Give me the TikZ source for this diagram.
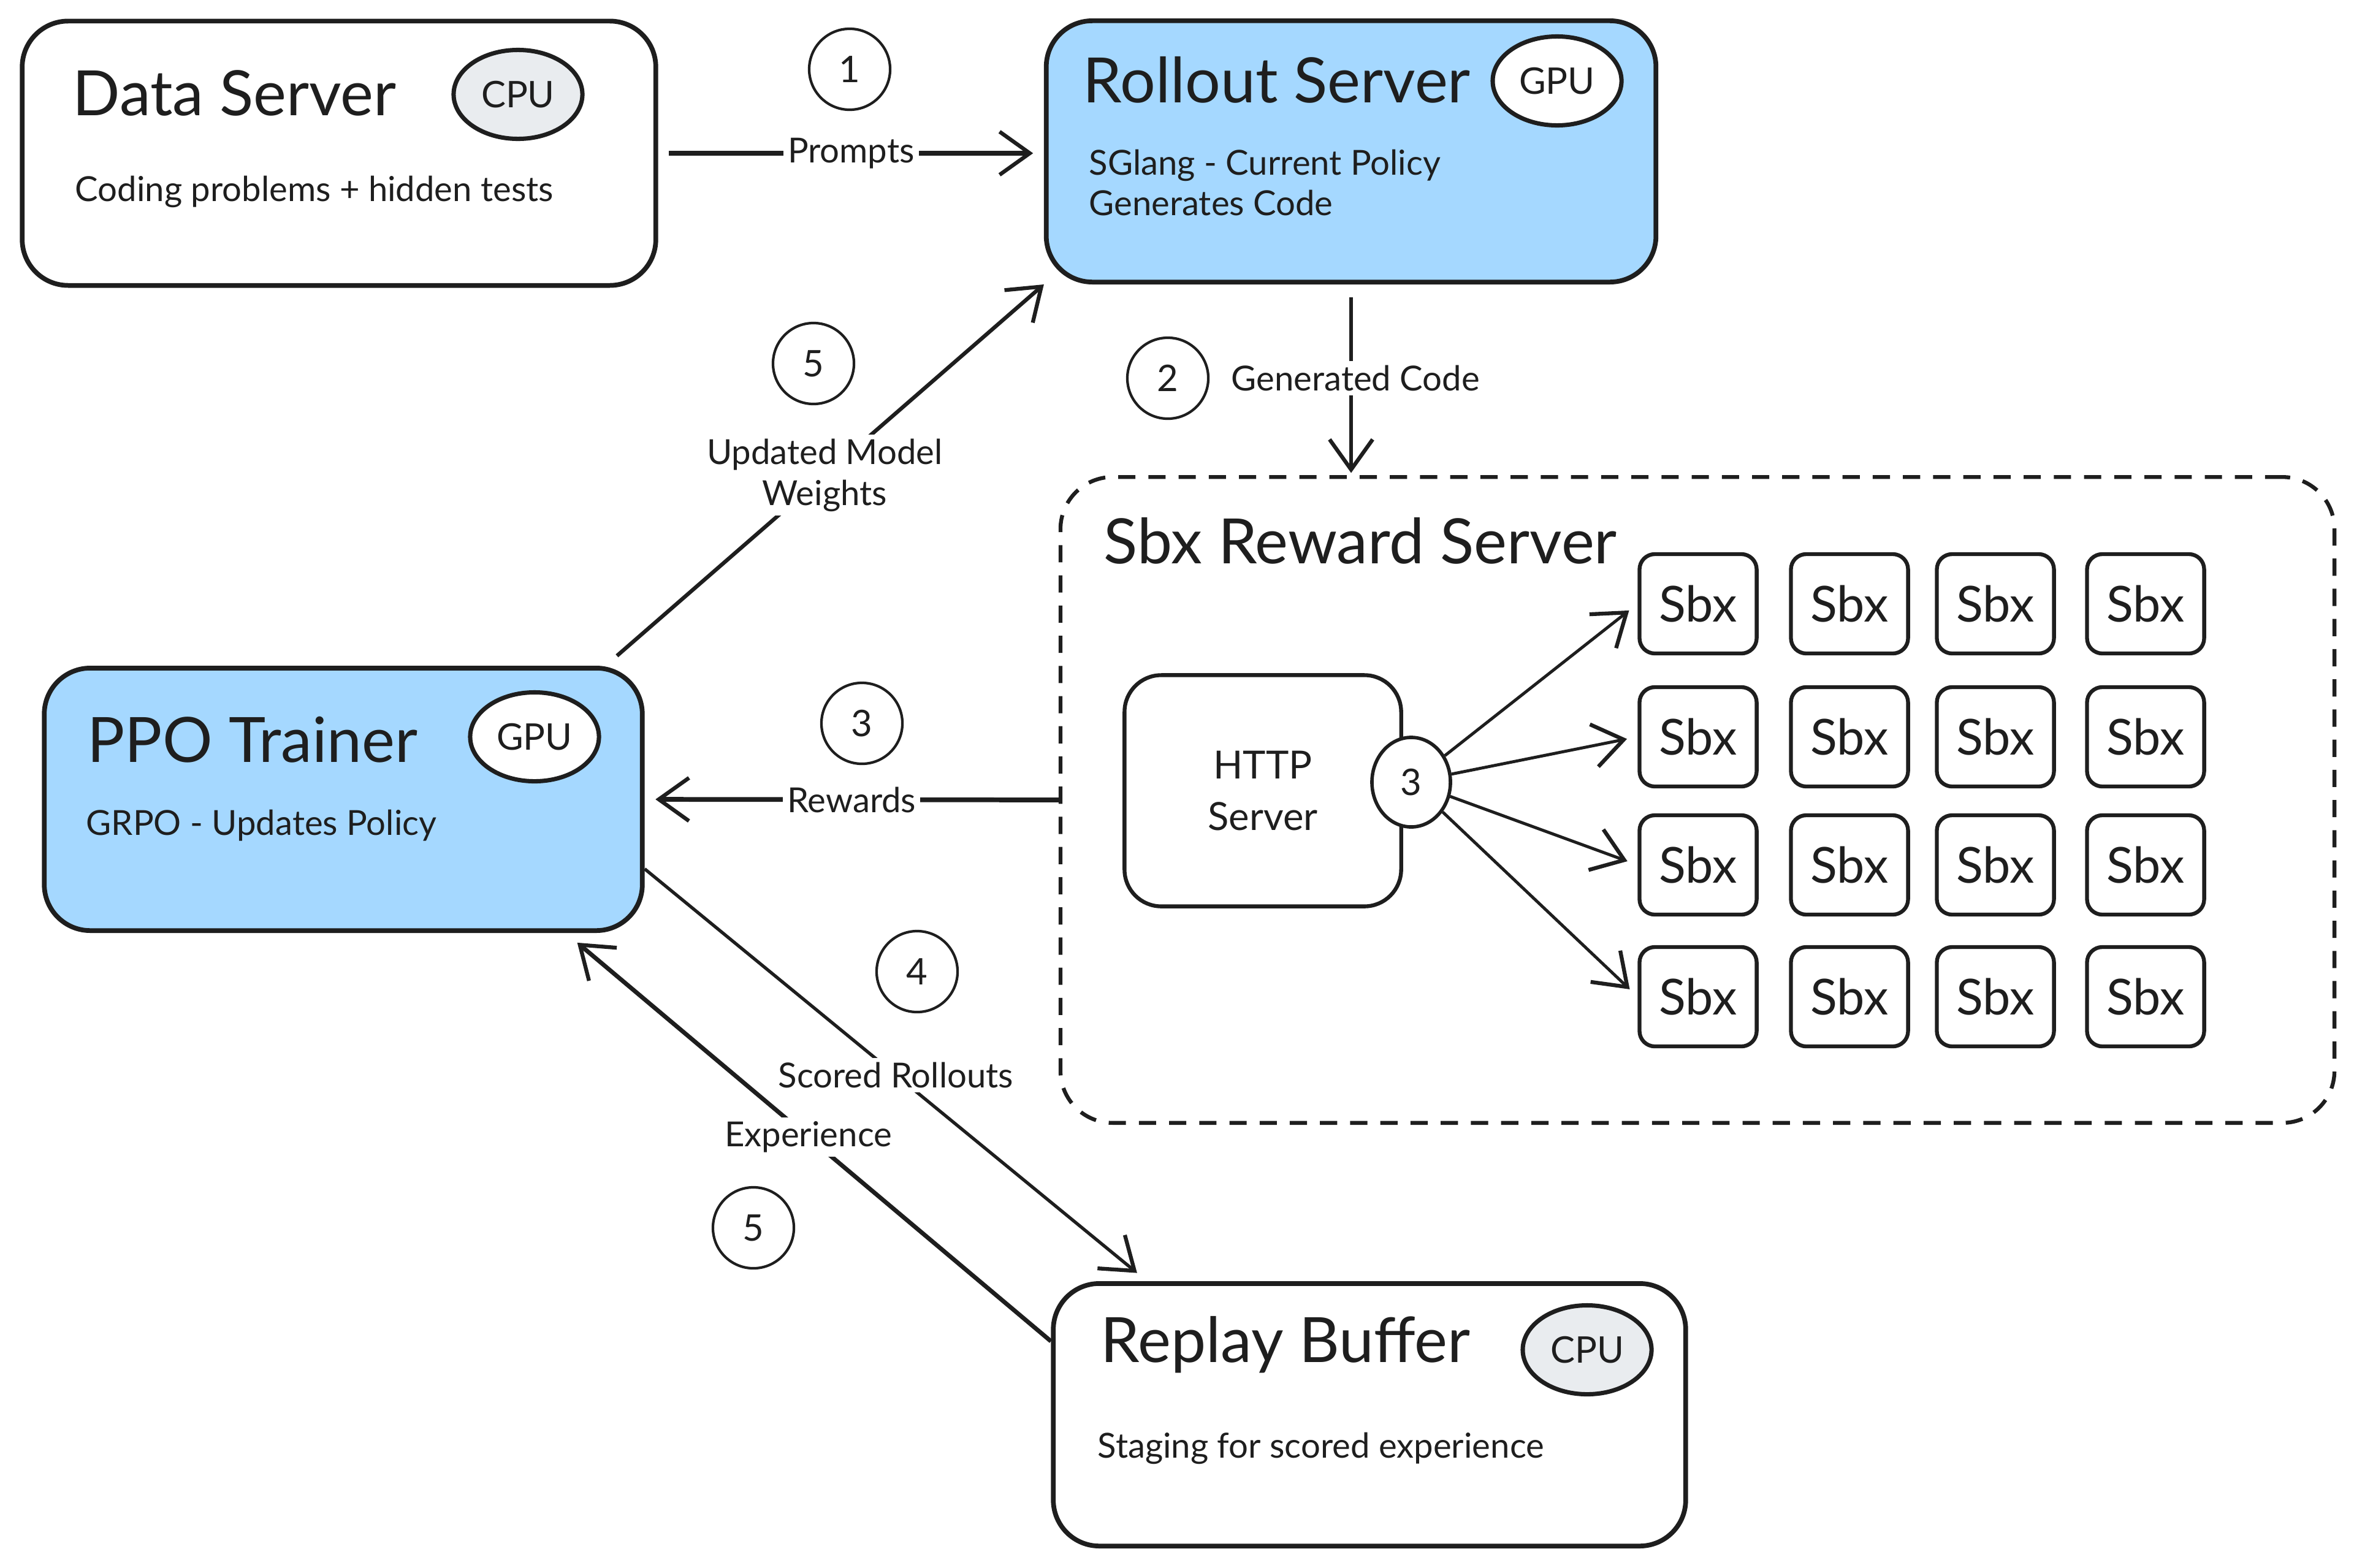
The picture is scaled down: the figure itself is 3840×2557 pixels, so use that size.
\documentclass[tikz,border=0pt]{standalone}
\usepackage{fontspec}
\setmainfont{Lato}
\usetikzlibrary{arrows.meta,shapes.geometric}

\definecolor{ink}{HTML}{1E1E1E}
\definecolor{gpublue}{HTML}{A5D8FF}
\definecolor{cpugray}{HTML}{E9ECEF}

\tikzset{
  server/.style={draw=ink, line width=2.2pt, rounded corners=0.75cm, inner sep=0pt},
  title/.style={anchor=west, inner sep=0pt, text=ink, font=\fontsize{29}{35}\selectfont},
  desc/.style={anchor=west, inner sep=0pt, text=ink, align=left, font=\fontsize{16}{19}\selectfont},
  hwtag/.style={ellipse, draw=ink, line width=2pt, inner sep=0pt, minimum width=2.1cm,
    minimum height=1.45cm, text=ink, font=\fontsize{17}{20}\selectfont},
  stepnum/.style={circle, draw=ink, line width=1.2pt, inner sep=0pt, minimum size=1.32cm,
    fill=white, text=ink, font=\fontsize{17}{20}\selectfont},
  flow/.style={draw=ink, line width=1.8pt,
    -{Straight Barb[length=14pt,width=20pt,line width=1.8pt]}},
  flowlabel/.style={fill=white, inner sep=2pt, text=ink, align=center,
    font=\fontsize{16}{19}\selectfont},
  sandbox/.style={draw=ink, line width=1.8pt, rounded corners=0.25cm, minimum width=1.91cm,
    minimum height=1.62cm, text=ink, font=\fontsize{23}{26}\selectfont},
}

\begin{document}
\begin{tikzpicture}[x=0.01cm, y=-0.01cm]
  \useasboundingbox (0,0) rectangle (3840,2557);

  % --- Data Server ---
  \node[server, minimum width=10.33cm, minimum height=4.31cm] (ds) at (553,250) {};
  \node[title] (dstitle) at (118,152) {Data Server};
  \node[desc] (dstext) at (122,313) {Coding problems + hidden tests};
  \node[hwtag, fill=cpugray] (dscpu) at (845,154) {CPU};

  % --- Rollout Server ---
  \node[server, fill=gpublue, minimum width=9.94cm, minimum height=4.26cm] (rs) at (2204,247) {};
  \node[title] (rstitle) at (1766,130) {Rollout Server};
  \node[desc] (rstext) at (1776,298) {SGlang - Current Policy\\Generates Code};
  \node[hwtag, fill=white] (rsgpu) at (2540,132) {GPU};

  % --- PPO Trainer ---
  \node[server, fill=gpublue, minimum width=9.75cm, minimum height=4.28cm] (ppo) at (560,1304) {};
  \node[title] (ppotitle) at (142,1207) {PPO Trainer};
  \node[desc] (ppotext) at (140,1347) {GRPO - Updates Policy};
  \node[hwtag, fill=white] (ppogpu) at (872,1202) {GPU};

  % --- Replay Buffer ---
  \node[server, minimum width=10.31cm, minimum height=4.28cm] (rb) at (2234,2308) {};
  \node[title] (rbtitle) at (1795,2194) {Replay Buffer};
  \node[desc] (rbtext) at (1790,2363) {Staging for scored experience};
  \node[hwtag, fill=cpugray] (rbcpu) at (2589,2202) {CPU};

  % --- Sbx Reward Server ---
  \node[draw=ink, line width=1.8pt, dash pattern=on 8pt off 6pt, rounded corners=0.85cm,
    minimum width=20.77cm, minimum height=10.53cm] (rew) at (2769,1305) {};
  \node[title] (rewtitle) at (1800,882) {Sbx Reward Server};
  \node[draw=ink, line width=1.8pt, rounded corners=0.6cm, minimum width=4.51cm,
    minimum height=3.77cm, align=center, text=ink, font=\fontsize{18}{24}\selectfont]
    (http) at (2060,1290) {HTTP\\Server};
  \node[ellipse, draw=ink, line width=1.6pt, fill=white, inner sep=0pt, minimum width=1.28cm,
    minimum height=1.46cm, text=ink, font=\fontsize{17}{20}\selectfont] (hc) at (2302,1276) {3};

  \foreach \r/\y in {1/985,2/1202,3/1411,4/1626}{
    \foreach \c/\x in {1/2770,2/3017,3/3255,4/3500}{
      \node[sandbox] (s\r\c) at (\x,\y) {Sbx};
    }
  }
  \foreach \r in {1,...,4}{
    \draw[flow, line width=1.4pt, shorten >=5pt] (hc) -- (s\r1.west);
  }

  % --- step numbers ---
  \node[stepnum] (n1) at (1386,113) {1};
  \node[stepnum] (n2) at (1905,617) {2};
  \node[stepnum] (n3) at (1406,1180) {3};
  \node[stepnum] (n4) at (1496,1585) {4};
  \node[stepnum] (n5a) at (1327,593) {5};
  \node[stepnum] (n5b) at (1229,2003) {5};

  % --- connectors ---
  \draw[flow, line width=2.2pt, shorten <=5pt, shorten >=5pt] (ds.east) -- (ds.east -| rs.west)
    node[flowlabel, midway] {Prompts};
  \draw[flow, shorten <=6pt, shorten >=1pt] (rs.south) -- (rs.south |- rew.north);
  \draw[flow, line width=2.2pt, shorten >=5pt] (rew.west) -- (ppo.east)
    node[flowlabel, midway] {Rewards};
  \draw[flow, shorten <=7pt] (ppo.27) -- (rs.south west)
    node[flowlabel, midway] {Updated Model\\Weights};
  \draw[flow, line width=1.5pt, shorten >=6pt] (ppo.-13) -- (rb.149)
    node[flowlabel, midway] {Scored Rollouts};
  \draw[flow, line width=2pt, shorten >=7pt] (rb.167) -- (ppo.-31)
    node[flowlabel, midway] {Experience};
  \node[desc, fill=white, inner sep=2pt] (gencode) at (2001,617) {Generated Code};
\end{tikzpicture}
\end{document}
